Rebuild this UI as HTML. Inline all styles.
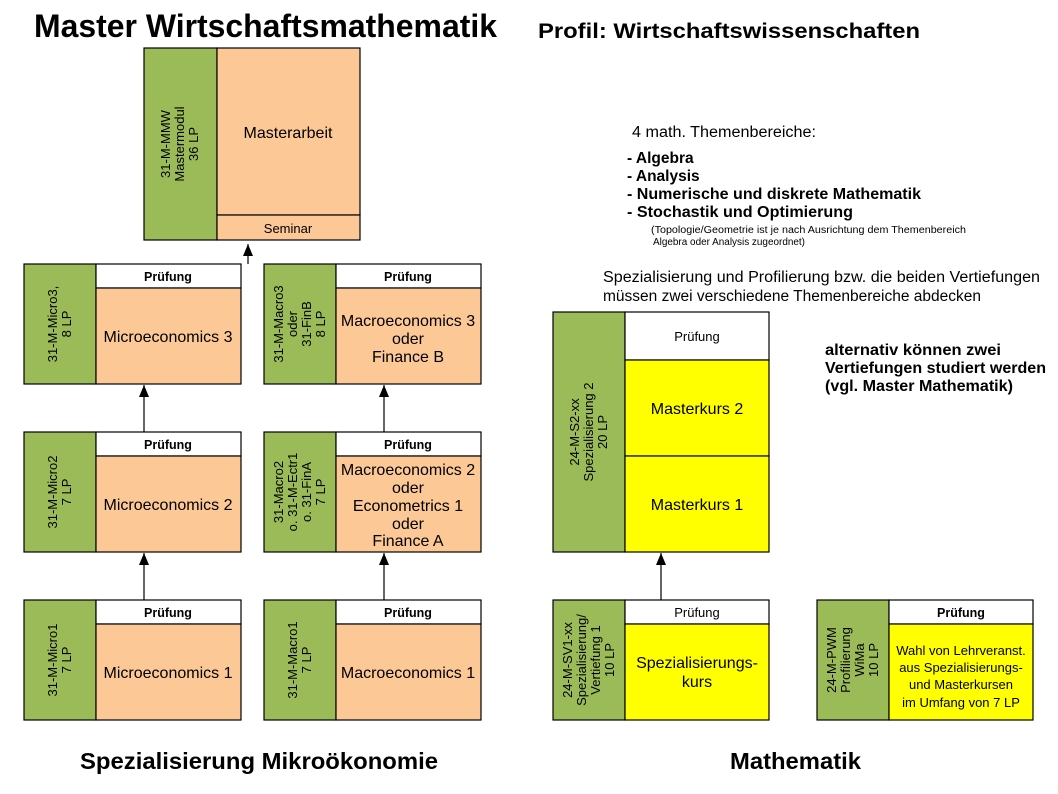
<!DOCTYPE html>
<html><head><meta charset="utf-8"><style>
body{margin:0;background:#fff}
svg{display:block;font-family:"Liberation Sans",Arial,sans-serif}
</style></head><body>
<svg width="1058" height="794" viewBox="0 0 1058 794" xmlns="http://www.w3.org/2000/svg" font-family="Liberation Sans, Arial, sans-serif">
<defs><marker id="ar" markerWidth="12" markerHeight="10" refX="12" refY="5" orient="auto" markerUnits="userSpaceOnUse"><path d="M0,0 L12,5 L0,10 Z" fill="#000"/></marker></defs>
<g stroke="#000" stroke-width="1.2">
<rect x="144" y="48" width="73" height="192" fill="#9bbb59"/>
<rect x="217" y="48" width="143" height="167" fill="#fcc896"/>
<rect x="217" y="215" width="143" height="25" fill="#fcc896"/>
<rect x="24" y="264" width="72" height="120" fill="#9bbb59"/>
<rect x="96" y="264" width="145" height="24" fill="#fff"/>
<rect x="96" y="288" width="145" height="96" fill="#fcc896"/>
<rect x="264" y="264" width="72" height="120" fill="#9bbb59"/>
<rect x="336" y="264" width="145" height="24" fill="#fff"/>
<rect x="336" y="288" width="145" height="96" fill="#fcc896"/>
<rect x="24" y="432" width="72" height="120" fill="#9bbb59"/>
<rect x="96" y="432" width="145" height="24" fill="#fff"/>
<rect x="96" y="456" width="145" height="96" fill="#fcc896"/>
<rect x="264" y="432" width="72" height="120" fill="#9bbb59"/>
<rect x="336" y="432" width="145" height="24" fill="#fff"/>
<rect x="336" y="456" width="145" height="96" fill="#fcc896"/>
<rect x="24" y="600" width="72" height="120" fill="#9bbb59"/>
<rect x="96" y="600" width="145" height="24" fill="#fff"/>
<rect x="96" y="624" width="145" height="96" fill="#fcc896"/>
<rect x="264" y="600" width="72" height="120" fill="#9bbb59"/>
<rect x="336" y="600" width="145" height="24" fill="#fff"/>
<rect x="336" y="624" width="145" height="96" fill="#fcc896"/>
<rect x="553" y="312" width="72" height="240" fill="#9bbb59"/>
<rect x="625" y="312" width="144" height="48" fill="#fff"/>
<rect x="625" y="360" width="144" height="96" fill="#ffff00"/>
<rect x="625" y="456" width="144" height="96" fill="#ffff00"/>
<rect x="553" y="600" width="72" height="120" fill="#9bbb59"/>
<rect x="625" y="600" width="144" height="24" fill="#fff"/>
<rect x="625" y="624" width="144" height="96" fill="#ffff00"/>
<rect x="817" y="600" width="72" height="120" fill="#9bbb59"/>
<rect x="889" y="600" width="144" height="24" fill="#fff"/>
<rect x="889" y="624" width="144" height="96" fill="#ffff00"/>
</g>
<g stroke="#000" stroke-width="1.2" marker-end="url(#ar)">
<line x1="248" y1="264" x2="248" y2="244"/>
<line x1="144" y1="432" x2="144" y2="385"/>
<line x1="384" y1="432" x2="384" y2="385"/>
<line x1="144" y1="600" x2="144" y2="553"/>
<line x1="384" y1="600" x2="384" y2="553"/>
<line x1="661" y1="600" x2="661" y2="553"/>
</g>
<text x="34" y="37" font-size="32" font-weight="bold" textLength="463" lengthAdjust="spacingAndGlyphs">Master Wirtschaftsmathematik</text>
<text x="538" y="38" font-size="21" font-weight="bold" textLength="382" lengthAdjust="spacingAndGlyphs">Profil: Wirtschaftswissenschaften</text>
<text x="80" y="769" font-size="23" font-weight="bold" textLength="358" lengthAdjust="spacingAndGlyphs">Spezialisierung Mikroökonomie</text>
<text x="730" y="769" font-size="23" font-weight="bold" textLength="131" lengthAdjust="spacingAndGlyphs">Mathematik</text>
<g font-size="15.5">
<text x="632" y="137" textLength="184" lengthAdjust="spacingAndGlyphs">4 math. Themenbereiche:</text>
<text x="603" y="282" textLength="437" lengthAdjust="spacingAndGlyphs">Spezialisierung und Profilierung bzw. die beiden Vertiefungen</text>
<text x="603" y="301" textLength="378" lengthAdjust="spacingAndGlyphs">müssen zwei verschiedene Themenbereiche abdecken</text>
</g>
<g font-size="15.5" font-weight="bold">
<text x="627" y="163">- Algebra</text>
<text x="627" y="181">- Analysis</text>
<text x="627" y="199" textLength="294" lengthAdjust="spacingAndGlyphs">- Numerische und diskrete Mathematik</text>
<text x="627" y="217" textLength="226" lengthAdjust="spacingAndGlyphs">- Stochastik und Optimierung</text>
<text x="825" y="355" textLength="176" lengthAdjust="spacingAndGlyphs">alternativ können zwei</text>
<text x="825" y="373" textLength="221" lengthAdjust="spacingAndGlyphs">Vertiefungen studiert werden</text>
<text x="825" y="391" textLength="188" lengthAdjust="spacingAndGlyphs">(vgl. Master Mathematik)</text>
</g>
<g font-size="10"><text x="651" y="233" textLength="315" lengthAdjust="spacingAndGlyphs">(Topologie/Geometrie ist je nach Ausrichtung dem Themenbereich</text><text x="653" y="245" textLength="152" lengthAdjust="spacingAndGlyphs">Algebra oder Analysis zugeordnet)</text></g>
<g font-size="16" text-anchor="middle">
<text x="288" y="138">Masterarbeit</text>
<text x="168" y="342">Microeconomics 3</text>
<text x="408" y="326">Macroeconomics 3</text><text x="408" y="344">oder</text><text x="408" y="362">Finance B</text>
<text x="168" y="510">Microeconomics 2</text>
<text x="408" y="475">Macroeconomics 2</text><text x="408" y="493">oder</text><text x="408" y="511">Econometrics 1</text><text x="408" y="529">oder</text><text x="408" y="546">Finance A</text>
<text x="168" y="678">Microeconomics 1</text>
<text x="408" y="678">Macroeconomics 1</text>
<text x="697" y="414">Masterkurs 2</text>
<text x="697" y="510">Masterkurs 1</text>
<text x="697" y="668">Spezialisierungs-</text><text x="697" y="687">kurs</text>
</g>
<g font-size="13" text-anchor="middle">
<text x="288" y="233">Seminar</text>
<text x="697" y="341">Prüfung</text>
<text x="697" y="617">Prüfung</text>
<text x="961" y="655">Wahl von Lehrveranst.</text><text x="961" y="672">aus Spezialisierungs-</text><text x="961" y="689">und Masterkursen</text><text x="961" y="707">im Umfang von 7 LP</text>
</g>
<g font-size="12.5" font-weight="bold" text-anchor="middle">
<text x="168" y="281">Prüfung</text><text x="408" y="281">Prüfung</text>
<text x="168" y="449">Prüfung</text><text x="408" y="449">Prüfung</text>
<text x="168" y="617">Prüfung</text><text x="408" y="617">Prüfung</text>
<text x="961" y="617">Prüfung</text>
</g>
<g font-size="13" text-anchor="middle">
<text transform="translate(180,144) rotate(-90)"><tspan x="0" y="-10">31-M-MMW</tspan><tspan x="0" y="4">Mastermodul</tspan><tspan x="0" y="18">36 LP</tspan></text>
<text transform="translate(60,324) rotate(-90)"><tspan x="0" y="-3">31-M-Micro3,</tspan><tspan x="0" y="11">8 LP</tspan></text>
<text transform="translate(300,324) rotate(-90)"><tspan x="0" y="-17">31-M-Macro3</tspan><tspan x="0" y="-3">oder</tspan><tspan x="0" y="11">31-FinB</tspan><tspan x="0" y="25">8 LP</tspan></text>
<text transform="translate(60,492) rotate(-90)"><tspan x="0" y="-3">31-M-Micro2</tspan><tspan x="0" y="11">7 LP</tspan></text>
<text transform="translate(300,492) rotate(-90)"><tspan x="0" y="-17">31-Macro2</tspan><tspan x="0" y="-3">o. 31-M-Ectr1</tspan><tspan x="0" y="11">o. 31-FinA</tspan><tspan x="0" y="25">7 LP</tspan></text>
<text transform="translate(60,660) rotate(-90)"><tspan x="0" y="-3">31-M-Micro1</tspan><tspan x="0" y="11">7 LP</tspan></text>
<text transform="translate(300,660) rotate(-90)"><tspan x="0" y="-3">31-M-Macro1</tspan><tspan x="0" y="11">7 LP</tspan></text>
<text transform="translate(589,432) rotate(-90)"><tspan x="0" y="-10">24-M-S2-xx</tspan><tspan x="0" y="4">Spezialisierung 2</tspan><tspan x="0" y="18">20 LP</tspan></text>
<text transform="translate(589,660) rotate(-90)"><tspan x="0" y="-17">24-M-SV1-xx</tspan><tspan x="0" y="-3">Spezialisierung/</tspan><tspan x="0" y="11">Vertiefung 1</tspan><tspan x="0" y="25">10 LP</tspan></text>
<text transform="translate(853,660) rotate(-90)"><tspan x="0" y="-17">24-M-PWM</tspan><tspan x="0" y="-3">Profilierung</tspan><tspan x="0" y="11">WiMa</tspan><tspan x="0" y="25">10 LP</tspan></text>
</g>
</svg>
</body></html>
